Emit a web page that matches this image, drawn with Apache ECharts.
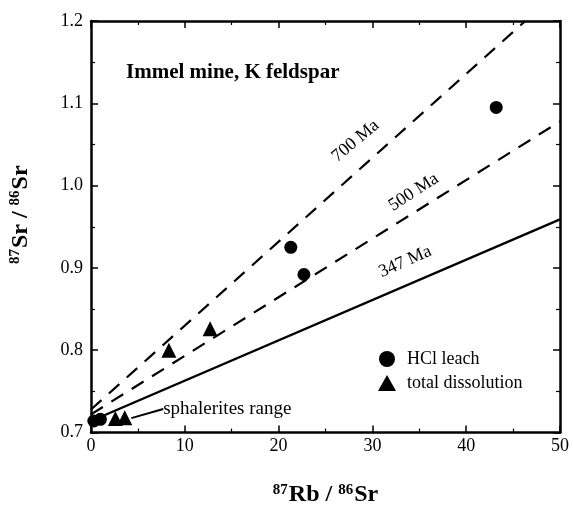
<!DOCTYPE html>
<html><head><meta charset="utf-8">
<script src="https://cdn.jsdelivr.net/npm/echarts@6/dist/echarts.min.js"></script>
<style>html,body{margin:0;padding:0;background:#fff}#c{width:573px;height:512px}</style>
</head><body><div id="c"></div>
<script>
var xTicks = [0, 10, 20, 30, 40, 50];
var yTicks = [0.7, 0.8, 0.9, 1.0, 1.1, 1.2];
var hclX = [0.3, 1.0, 21.3, 22.7, 43.2];
var hclY = [0.714, 0.716, 0.925, 0.892, 1.095];
var totX = [2.6, 3.6, 8.3, 12.7];
var totY = [0.717, 0.718, 0.800, 0.826];
var iso700X = [0, 46.3];
var iso700Y = [0.728, 1.2];
var iso500X = [0, 50];
var iso500Y = [0.722, 1.078];
var iso347X = [0, 50];
var iso347Y = [0.714, 0.959];
var lineLabels = ['700 Ma', '500 Ma', '347 Ma'];
var lineLabelX = [28.2, 34.4, 33.5];
var lineLabelY = [1.054, 0.992, 0.9075];
var lineLabelRot = [40, 33, 24];
var sphArrowX = [7.7, 4.3];
var sphArrowY = [0.7285, 0.7175];

function zip(a, b) { return a.map(function (v, i) { return [v, b[i]]; }); }
var serif = '"Liberation Serif","DejaVu Serif",serif';
var chart = echarts.init(document.getElementById('c'));
function axisCommon(extra) {
  var o = {
    axisLine: { show: true, onZero: false, lineStyle: { color: '#000', width: 2.5 } },
    axisTick: { show: true, inside: true, length: 7, lineStyle: { color: '#000', width: 1.5 } },
    minorTick: { show: true, splitNumber: 2, length: 4, lineStyle: { color: '#000', width: 1.2 } },
    splitLine: { show: false }
  };
  for (var k in extra) o[k] = extra[k];
  return o;
}
var labelSeries = lineLabels.map(function (t, i) {
  return {
    type: 'scatter', symbolSize: 0, silent: true, xAxisIndex: 0, yAxisIndex: 0,
    itemStyle: { opacity: 1 },
    data: [[lineLabelX[i], lineLabelY[i]]],
    label: { show: true, position: 'inside', formatter: t, rotate: lineLabelRot[i],
      fontFamily: serif, fontSize: 18, color: '#000', opacity: 1 }
  };
});
var nameRich = {
  s: { fontFamily: serif, fontSize: 15, fontWeight: 'bold', color: '#000', verticalAlign: 'top', padding: [0, 1, 10, 0] },
  b: { fontFamily: serif, fontSize: 24, fontWeight: 'bold', color: '#000' }
};
chart.setOption({
  animation: false,
  grid: { left: 89, right: 13, top: 21, bottom: 79 },
  title: { text: 'Immel mine, K feldspar', left: 121, top: 57,
    textStyle: { fontFamily: serif, fontSize: 21, fontWeight: 'bold', color: '#000' } },
  legend: {
    orient: 'vertical', left: 373, top: 345, itemGap: 6, itemWidth: 18, itemHeight: 16,
    data: ['HCl leach', 'total dissolution'],
    textStyle: { fontFamily: serif, fontSize: 18, color: '#000', padding: [0, 0, 0, 6] }
  },
  xAxis: [
    axisCommon({ type: 'value', min: 0, max: 50, interval: 10, position: 'bottom',
      name: '{s|87}{b|Rb / }{s|86}{b|Sr}', nameLocation: 'middle', nameGap: 50,
      nameTextStyle: { rich: nameRich },
      axisLabel: { show: true, fontFamily: serif, fontSize: 18, color: '#000', margin: 5,
        formatter: function (v) { return xTicks.indexOf(v) >= 0 ? String(v) : ''; } } }),
    axisCommon({ type: 'value', min: 0, max: 50, interval: 10, position: 'top', axisLabel: { show: false } })
  ],
  yAxis: [
    axisCommon({ type: 'value', min: 0.7, max: 1.2, interval: 0.1, position: 'left',
      name: '{s|87}{b|Sr / }{s|86}{b|Sr}', nameLocation: 'middle', nameGap: 58, nameRotate: 90,
      nameTextStyle: { rich: nameRich, padding: [0, 0, 0, 24] },
      axisLabel: { show: true, fontFamily: serif, fontSize: 18, color: '#000', margin: 8,
        formatter: function (v) { return v.toFixed(1); } } }),
    axisCommon({ type: 'value', min: 0.7, max: 1.2, interval: 0.1, position: 'right', axisLabel: { show: false } })
  ],
  series: [
    { type: 'line', name: '700', data: zip(iso700X, iso700Y), symbol: 'none', silent: true,
      lineStyle: { color: '#000', width: 2.2, type: [14, 10] } },
    { type: 'line', name: '500', data: zip(iso500X, iso500Y), symbol: 'none', silent: true,
      lineStyle: { color: '#000', width: 2.2, type: [14, 10] } },
    { type: 'line', name: '347', data: zip(iso347X, iso347Y), symbol: 'none', silent: true,
      lineStyle: { color: '#000', width: 2.4 } },
    { type: 'scatter', name: 'HCl leach', data: zip(hclX, hclY), symbol: 'circle', symbolSize: 13,
      itemStyle: { color: '#000', opacity: 1 } },
    { type: 'scatter', name: 'total dissolution', data: zip(totX, totY), symbol: 'triangle', symbolSize: 15,
      itemStyle: { color: '#000', opacity: 1 } },
    { type: 'line', name: 'arrow', data: zip(sphArrowX, sphArrowY), symbol: ['none', 'arrow'], symbolSize: [0, 10],
      showSymbol: true, silent: true, lineStyle: { color: '#000', width: 2 }, itemStyle: { color: '#000' },
      label: { show: false } },
    { type: 'scatter', symbolSize: 0, silent: true, itemStyle: { opacity: 1 }, data: [[sphArrowX[0], sphArrowY[0]]],
      label: { show: true, position: 'right', distance: 0, formatter: 'sphalerites range',
        fontFamily: serif, fontSize: 19, color: '#000', opacity: 1 } }
  ].concat(labelSeries)
});
</script></body></html>
